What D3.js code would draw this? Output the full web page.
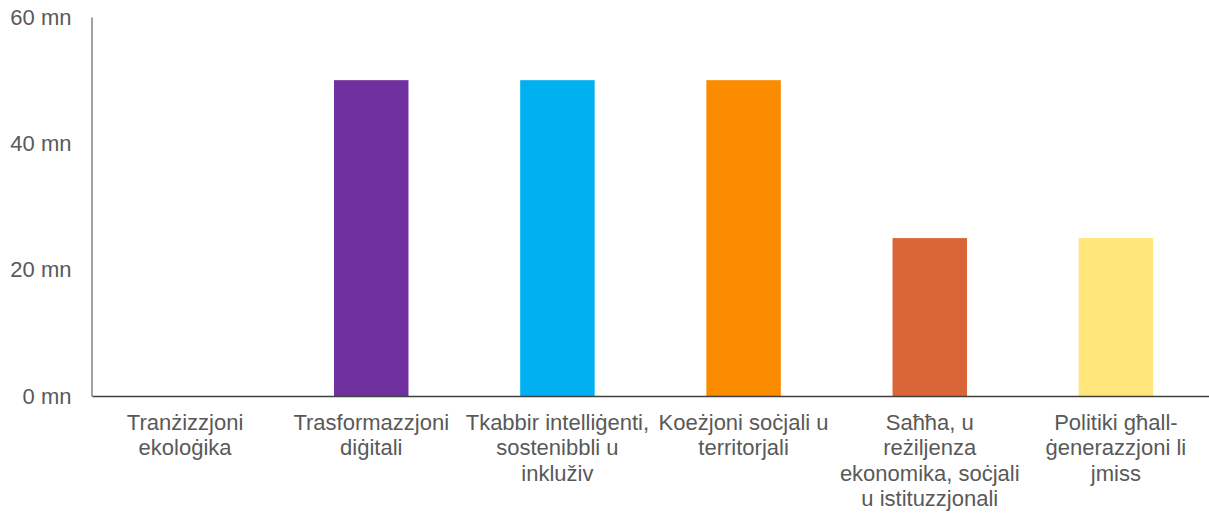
<!DOCTYPE html>
<html>
<head>
<meta charset="utf-8">
<script src="https://cdn.jsdelivr.net/npm/d3@7"></script>
<style>
  html, body { margin: 0; padding: 0; background: #ffffff; }
  svg { display: block; }
  text { font-family: "Liberation Sans", Arial, sans-serif; }
</style>
</head>
<body>
<svg id="chart" width="1209" height="513"></svg>
<script>
// Category labels (line breaks marked with "\n")
const categories = [
  "Tranżizzjoni\nekoloġika",
  "Trasformazzjoni\ndiġitali",
  "Tkabbir intelliġenti,\nsostenibbli u\ninkluživ",
  "Koeżjoni soċjali u\nterritorjali",
  "Saħħa, u\nreżiljenza\nekonomika, soċjali\nu istituzzjonali",
  "Politiki għall-\nġenerazzjoni li\njmiss"
];
// Amounts in millions
const values = [0, 50, 50, 50, 25, 25];
const barColors = ["#4CAF50", "#7030A0", "#00B0F0", "#FB8C00", "#DA6638", "#FFE57A"];
const yTicks = [0, 20, 40, 60];
const yTickLabels = ["0 mn", "20 mn", "40 mn", "60 mn"];

const svg = d3.select("#chart");
const W = 1209;
const plotLeft = 92, plotBottom = 396, plotTop = 17;
const fontSize = "22px";

const x = d3.scaleBand()
  .domain(d3.range(categories.length))
  .range([plotLeft, W])
  .paddingInner(0.6)
  .paddingOuter(0.3);

const y = d3.scaleLinear()
  .domain([0, 60])
  .range([plotBottom, plotTop]);

// Bars
svg.append("g")
  .selectAll("rect")
  .data(values)
  .join("rect")
  .attr("x", (d, i) => x(i))
  .attr("width", x.bandwidth())
  .attr("y", d => y(d))
  .attr("height", d => y(0) - y(d))
  .attr("fill", (d, i) => barColors[i]);

// Y axis
const yAxis = d3.axisLeft(y)
  .tickValues(yTicks)
  .tickFormat((d, i) => yTickLabels[i])
  .tickSize(0)
  .tickPadding(20);

const gy = svg.append("g")
  .attr("transform", `translate(${plotLeft - 0.5},0)`)
  .call(yAxis);
gy.select(".domain").attr("stroke", "#6e6e6e").attr("stroke-width", 1.3);
gy.selectAll(".tick text")
  .attr("fill", "#595959")
  .style("font-size", fontSize)
  .style("font-family", "'Liberation Sans', Arial, sans-serif");

// X axis
const xAxis = d3.axisBottom(x)
  .tickSize(0)
  .tickFormat("");

const gx = svg.append("g")
  .attr("transform", `translate(0,${y(0)})`)
  .call(xAxis);
gx.select(".domain").attr("stroke", "#404040").attr("stroke-width", 1.3);

// Multi-line category labels
gx.selectAll(".tick").each(function(d, i) {
  const t = d3.select(this).select("text")
    .attr("fill", "#595959")
    .attr("y", 0)
    .attr("dy", null)
    .style("font-size", fontSize)
    .style("font-family", "'Liberation Sans', Arial, sans-serif")
    .attr("text-anchor", "middle");
  t.selectAll("tspan")
    .data(categories[i].split("\n"))
    .join("tspan")
    .attr("x", 0)
    .attr("y", (line, k) => 34 + k * 25.3)
    .text(line => line);
});
</script>
</body>
</html>
